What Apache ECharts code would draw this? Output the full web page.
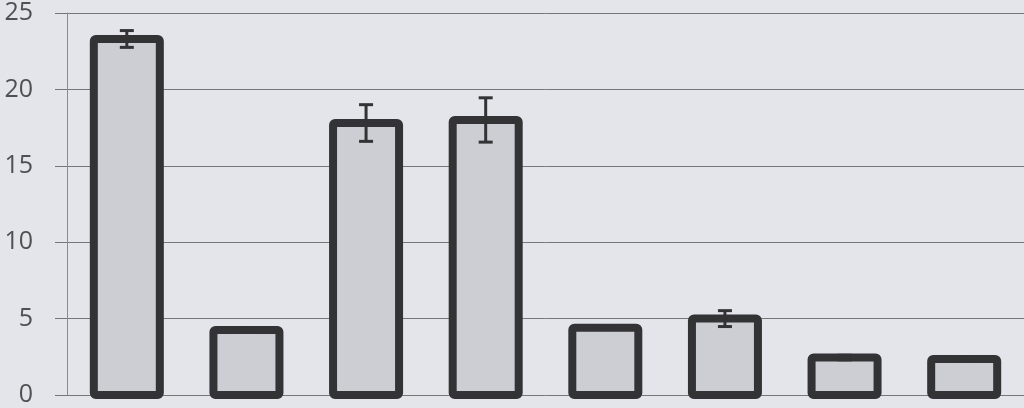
<!DOCTYPE html>
<html><head><meta charset="utf-8">
<script src="https://cdn.jsdelivr.net/npm/echarts@6/dist/echarts.min.js"></script>
<style>html,body{margin:0;padding:0;background:#e3e5eb;}#c{width:1024px;height:408px;}</style>
</head><body><div id="c"></div>
<script>
const categories = ['1','2','3','4','5','6','7','8'];
const values = [23.3, 4.25, 17.8, 18.0, 4.4, 5.0, 2.45, 2.35];
const errors = [0.55, 0.05, 1.2, 1.45, 0.08, 0.52, 0.15, 0.05];
const yTicks = [0, 5, 10, 15, 20, 25];

const chart = echarts.init(document.getElementById('c'));
chart.setOption({
  backgroundColor: '#e3e5eb',
  animation: false,
  grid: {left: 67, right: 0, top: 13, bottom: 13},
  xAxis: {
    type: 'category', data: categories,
    axisLine: {show: false}, axisTick: {show: false}, axisLabel: {show: false}
  },
  yAxis: {
    type: 'value', min: yTicks[0], max: yTicks[yTicks.length-1], interval: 5,
    axisLine: {show: true, lineStyle: {color: '#8a8a8e', width: 1}},
    axisTick: {show: true, length: 12, lineStyle: {color: '#77777b', width: 1}},
    splitLine: {lineStyle: {color: '#77777b', width: 1}},
    axisLabel: {margin: 34, fontSize: 25, color: '#505053', fontFamily: 'Open Sans'}
  },
  series: [
    {
      type: 'custom', z: 3, clip: false,
      data: values.map((v, i) => [i, v]),
      renderItem: function (params, api) {
        const x = api.value(0);
        const top = api.coord([x, api.value(1)]);
        const base = api.coord([x, 0]);
        const w = 66;
        return {
          type: 'rect',
          shape: {x: top[0] - w / 2, y: top[1], width: w, height: base[1] - top[1], r: 2},
          style: {fill: '#cdced3', stroke: '#333335', lineWidth: 8, lineJoin: 'round'}
        };
      }
    },
    {
      type: 'custom', z: 5,
      data: values.map((v, i) => [i, v - errors[i], v + errors[i]]),
      renderItem: function (params, api) {
        const x = api.value(0);
        const lo = api.coord([x, api.value(1)]);
        const hi = api.coord([x, api.value(2)]);
        const hw = 7;
        const st = {stroke: '#333335', lineWidth: 3};
        return {type: 'group', children: [
          {type: 'line', shape: {x1: lo[0], y1: lo[1], x2: hi[0], y2: hi[1]}, style: st},
          {type: 'line', shape: {x1: lo[0]-hw, y1: lo[1], x2: lo[0]+hw, y2: lo[1]}, style: st},
          {type: 'line', shape: {x1: hi[0]-hw, y1: hi[1], x2: hi[0]+hw, y2: hi[1]}, style: st}
        ]};
      }
    }
  ]
});
</script></body></html>
